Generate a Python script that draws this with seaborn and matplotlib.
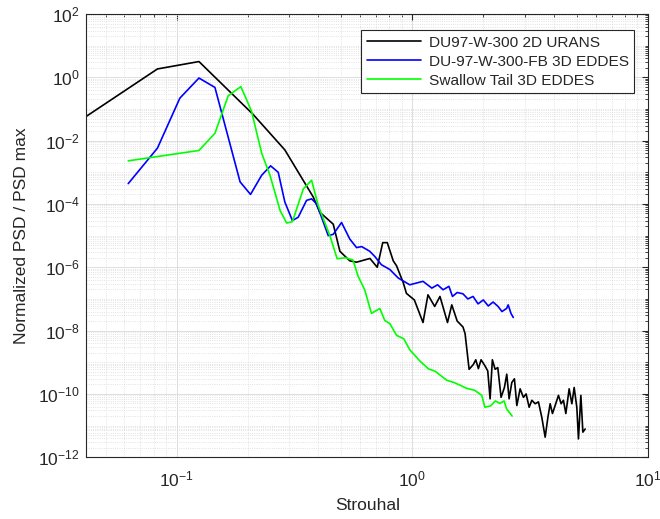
# ============================================================================
# IMPORTS
# ============================================================================

import numpy as np
import pandas as pd

import matplotlib
matplotlib.use('Agg')
import matplotlib.pyplot as plt
from matplotlib.ticker import LogLocator, NullFormatter
import seaborn as sns

# ============================================================================
# DATA
# ============================================================================

urans_st = [0.0415, 0.083, 0.1245, 0.211, 0.288, 0.38, 0.405, 0.462, 0.493, 0.543,
            0.58, 0.661, 0.71, 0.749, 0.783, 0.83, 0.858, 0.916, 0.944, 1.02,
            1.11, 1.165, 1.244, 1.31, 1.41, 1.47, 1.55, 1.64, 1.674, 1.741,
            1.815, 1.858, 1.906, 1.957, 2.035, 2.089, 2.137, 2.185, 2.244, 2.304,
            2.379, 2.458, 2.515, 2.573, 2.642, 2.710, 2.775, 2.865, 2.959, 3.038,
            3.129, 3.213, 3.318, 3.427, 3.542, 3.659, 3.757, 3.842, 3.929, 4.034,
            4.166, 4.277, 4.374, 4.478, 4.625, 4.749, 4.857, 4.986, 5.065, 5.186,
            5.288, 5.408]
urans_psd = [5.9e-2, 1.84, 3.15, 6.8e-2, 5.1e-3, 1.66e-4, 5.5e-5, 2.3e-5, 3.2e-6, 1.6e-6,
             1.45e-6, 1.9e-6, 1.0e-6, 6.0e-6, 6.0e-6, 1.6e-6, 1.1e-6, 3.2e-7, 1.5e-7, 9.3e-8,
             1.8e-8, 1.35e-7, 5.8e-8, 1.2e-7, 1.8e-8, 6.5e-8, 2.0e-8, 1.3e-8, 8.0e-9, 6.0e-10,
             8.5e-10, 1.2e-9, 6.3e-10, 1.2e-9, 7.6e-10, 5.3e-10, 7.0e-11, 1.2e-9, 6.0e-10, 6.8e-10,
             7.8e-11, 1.6e-10, 4.2e-10, 7.0e-11, 2.3e-10, 3.0e-10, 4.3e-11, 1.45e-10, 7.8e-11, 1.0e-10,
             3.8e-11, 6.3e-11, 4.9e-11, 5.6e-11, 1.8e-11, 4.3e-12, 1.8e-11, 4.9e-11, 2.4e-11, 4.3e-11,
             9.0e-11, 4.9e-11, 6.3e-11, 2.4e-11, 1.45e-10, 4.9e-11, 1.6e-10, 3.7e-11, 3.8e-12, 9.0e-11,
             6.2e-12, 7.8e-12]

fb_st = [0.0624, 0.083, 0.1033, 0.1245, 0.1455, 0.186, 0.206, 0.2297, 0.2506, 0.27,
         0.288, 0.31, 0.328, 0.356, 0.374, 0.393, 0.44, 0.462, 0.501, 0.543,
         0.58, 0.61, 0.66, 0.693, 0.74, 0.803, 0.871, 0.975, 1.11, 1.21,
         1.28, 1.35, 1.43, 1.48, 1.55, 1.64, 1.72, 1.81, 1.9, 2.0,
         2.1, 2.2, 2.31, 2.4, 2.51, 2.55, 2.62, 2.68]
fb_psd = [4.4e-4, 5.8e-3, 0.22, 0.95, 0.48, 5.0e-4, 2.0e-4, 8.1e-4, 1.6e-3, 1.0e-3,
          1.15e-4, 3.0e-5, 3.8e-5, 1.3e-4, 1.45e-4, 1.0e-4, 1.0e-5, 1.1e-5, 2.6e-5, 7.8e-6,
          4.2e-6, 4.5e-6, 3.2e-6, 2.2e-6, 1.2e-6, 8.5e-7, 4.6e-7, 2.8e-7, 3.6e-7, 2.2e-7,
          2.8e-7, 1.95e-7, 2.5e-7, 1.2e-7, 1.6e-7, 1.45e-7, 1.0e-7, 1.2e-7, 7.0e-8, 9.3e-8,
          6.0e-8, 8.0e-8, 5.8e-8, 4.0e-8, 5.0e-8, 6.5e-8, 3.5e-8, 2.6e-8]

st_st = [0.0624, 0.1245, 0.1455, 0.1656, 0.1875, 0.208, 0.2297, 0.249, 0.275, 0.293,
         0.31, 0.345, 0.374, 0.399, 0.447, 0.48, 0.52, 0.56, 0.589, 0.628,
         0.671, 0.728, 0.764, 0.803, 0.857, 0.92, 0.975, 1.076, 1.17, 1.25,
         1.4, 1.5, 1.59, 1.7, 1.84, 1.97, 2.03, 2.15, 2.25, 2.35,
         2.45, 2.51, 2.65]
st_psd = [2.3e-3, 4.9e-3, 1.7e-2, 0.26, 0.51, 8.5e-2, 4.0e-3, 8.1e-4, 6.2e-5, 2.5e-5,
          2.75e-5, 3.0e-4, 5.6e-4, 8.9e-5, 1.0e-5, 1.86e-6, 2.0e-6, 1.7e-6, 5.2e-7, 1.95e-7,
          3.5e-8, 5.0e-8, 2.1e-8, 1.66e-8, 7.1e-9, 5.5e-9, 2.5e-9, 1.1e-9, 6.2e-10, 5.2e-10,
          2.7e-10, 2.3e-10, 1.9e-10, 1.5e-10, 1.3e-10, 9.0e-11, 3.8e-11, 4.2e-11, 6.0e-11, 5.0e-11,
          6.0e-11, 3.4e-11, 2.0e-11]

labels = ['DU97-W-300 2D URANS', 'DU-97-W-300-FB 3D EDDES', 'Swallow Tail 3D EDDES']

df = pd.concat([
    pd.DataFrame({'st': urans_st, 'psd': urans_psd, 'case': labels[0]}),
    pd.DataFrame({'st': fb_st, 'psd': fb_psd, 'case': labels[1]}),
    pd.DataFrame({'st': st_st, 'psd': st_psd, 'case': labels[2]}),
])

# ============================================================================
# PLOT
# ============================================================================
sns.set_style('white')
plt.rcParams['font.family'] = ['Liberation Sans', 'DejaVu Sans']
plt.rcParams['mathtext.fontset'] = 'custom'
plt.rcParams['mathtext.rm'] = 'Liberation Sans'
palette1 = ['#000000', '#0000ff', '#00ff00']

fig, ax = plt.subplots(figsize=(6.6, 5.19), dpi=100)
fig.subplots_adjust(left=0.131, right=0.982, top=0.973, bottom=0.119)

sns.lineplot(data=df, x='st', y='psd', hue='case', hue_order=labels,
             palette=palette1, sort=False, estimator=None, linewidth=1.2, ax=ax)

ax.set_xscale('log')
ax.set_yscale('log')
ax.set(xlim=(0.0415, 10), ylim=(1e-12, 1e2))

ax.yaxis.set_major_locator(LogLocator(base=100, numticks=20))
ax.yaxis.set_minor_locator(LogLocator(base=10, subs=np.arange(1, 10), numticks=40))
ax.yaxis.set_minor_formatter(NullFormatter())
ax.xaxis.set_minor_locator(LogLocator(base=10, subs=np.arange(2, 10), numticks=20))
ax.xaxis.set_minor_formatter(NullFormatter())

ax.grid(True, which='major', color='#d9d9d9', linewidth=0.6, linestyle='-')
ax.grid(True, which='minor', color='#d9d9d9', linewidth=0.6, linestyle=':')
ax.set_axisbelow(True)

ax.tick_params(which='both', direction='in', top=True, right=True,
               labelsize=12.5, colors='#262626')
ax.tick_params(which='major', length=4)
ax.tick_params(which='minor', length=2)
ax.tick_params(axis='x', which='major', pad=9)
ax.tick_params(axis='y', which='major', pad=5)
for sp in ax.spines.values():
    sp.set_color('#262626')
    sp.set_linewidth(0.8)

ax.set_xlabel('Strouhal', fontsize=12.5, color='#262626', labelpad=6)
ax.set_ylabel('Normalized PSD / PSD max', fontsize=12.5, color='#262626', labelpad=6)

leg = ax.legend(loc='upper right', bbox_to_anchor=(0.975, 0.963), borderaxespad=0,
                fontsize=11.1, handlelength=3.5, handletextpad=0.5, fancybox=False,
                framealpha=1, edgecolor='#262626', borderpad=0.35, labelspacing=0.32)
leg.get_frame().set_linewidth(0.8)

plt.savefig('out.png', dpi=100)
